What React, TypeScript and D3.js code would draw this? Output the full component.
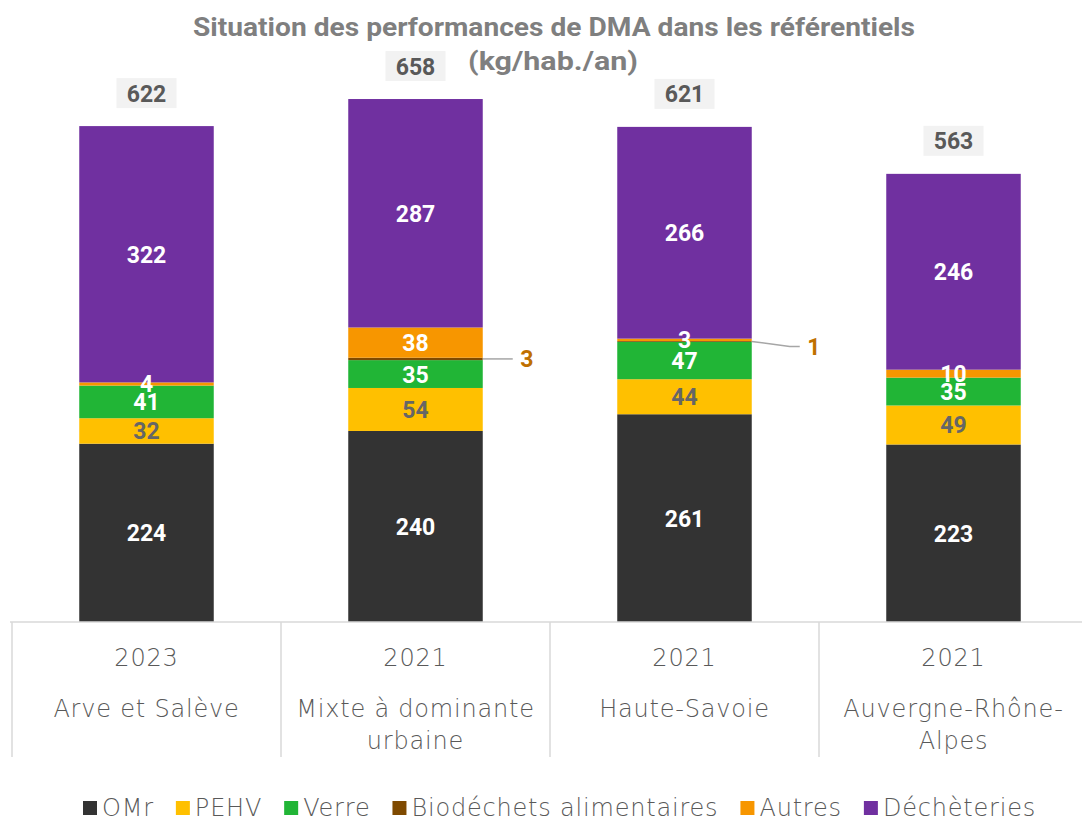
import React from "react";
import * as d3 from "d3";

const categories = ["Arve et Salève", "Mixte à dominante urbaine", "Haute-Savoie", "Auvergne-Rhône-Alpes"];
const years = ["2023", "2021", "2021", "2021"];
const categoryLines = [["Arve et Salève"], ["Mixte à dominante", "urbaine"], ["Haute-Savoie"], ["Auvergne-Rhône-", "Alpes"]];
const seriesNames = ["OMr", "PEHV", "Verre", "Biodéchets alimentaires", "Autres", "Déchèteries"];
const omr = [224, 240, 261, 223];
const pehv = [32, 54, 44, 49];
const verre = [41, 35, 47, 35];
const bio = [0, 3, 1, 0];
const autres = [4, 38, 3, 10];
const decheteries = [322, 287, 266, 246];
const totals = [622, 658, 621, 563];

const seriesValues = [omr, pehv, verre, bio, autres, decheteries];
const colors = ["#333333", "#FFC000", "#21B536", "#7F4A00", "#F79600", "#7030A0"];
const labelColors = ["#FFFFFF", "#666666", "#FFFFFF", "#BF7000", "#FFFFFF", "#FFFFFF"];

const W = 1082;
const H = 819;

const lightFamily = "'DejaVu Sans'";
const lightSize = 24;
const lightSpacing = 0.8;

function measure(text: string, font: string) {
  const c = document.createElement("canvas").getContext("2d")!;
  c.font = font;
  return c.measureText(text).width;
}

export default function App() {
  const x = d3.scaleBand<string>().domain(categories).range([12, 1088]).paddingInner(0.5).paddingOuter(0.25);
  const y = d3.scaleLinear().domain([0, 700]).range([622, 622 - 700 * 0.796]);

  const rows = categories.map((c, i) => {
    const r: any = { cat: c };
    seriesNames.forEach((s, j) => (r[s] = seriesValues[j][i]));
    return r;
  });
  const stacked = d3.stack<any>().keys(seriesNames)(rows);

  const legendFont = `200 ${lightSize}px 'DejaVu Sans'`;
  const labelFontFamily = "Roboto";

  // legend layout
  let lx = 83;
  const legendItems = seriesNames.map((s, i) => {
    const w = measure(s, legendFont) + s.length * lightSpacing;
    const item = { s, i, x: lx, w };
    lx += 14 + 5 + w + 22;
    return item;
  });

  const bw = x.bandwidth();

  return (
    <svg width={W} height={H} style={{ position: "absolute", left: 0, top: 0, background: "#fff" }}>
      <text x={554} y={36} textAnchor="middle" fill="#7F7F7F" fontFamily="Roboto" fontWeight="bold" fontSize={25} textLength={722} lengthAdjust="spacingAndGlyphs">
        Situation des performances de DMA dans les référentiels
      </text>
      <text x={553} y={70} textAnchor="middle" fill="#7F7F7F" fontFamily="Roboto" fontWeight="bold" fontSize={25} textLength={170} lengthAdjust="spacingAndGlyphs">
        (kg/hab./an)
      </text>

      {/* bars */}
      {stacked.map((layer, j) =>
        layer.map((d, i) => {
          const h = y(d[0]) - y(d[1]);
          if (h <= 0) return null;
          return (
            <rect key={`${j}-${i}`} x={x(categories[i])!} y={y(d[1])} width={bw} height={h} fill={colors[j]} />
          );
        })
      )}

      {/* axis lines */}
      <line x1={10} x2={1082} y1={y(0)} y2={y(0)} stroke="#D9D9D9" strokeWidth={1.5} />
      {d3.range(categories.length + 1).map((k) => {
        const xx = 12 + k * x.step();
        return <line key={k} x1={xx} x2={xx} y1={y(0)} y2={757} stroke="#D9D9D9" strokeWidth={1.5} />;
      })}

      {/* category labels */}
      {categories.map((c, i) => {
        const cx = x(c)! + bw / 2;
        return (
          <g key={c} fill="#595959" fontFamily={lightFamily} fontSize={lightSize} fontWeight={200} textAnchor="middle" letterSpacing={lightSpacing}>
            <text x={cx} y={666}>{years[i]}</text>
            {categoryLines[i].map((t, k) => (
              <text key={k} x={cx} y={717 + k * 32}>{t}</text>
            ))}
          </g>
        );
      })}

      {/* segment labels */}
      {stacked.map((layer, j) =>
        layer.map((d, i) => {
          const v = seriesValues[j][i];
          if (!v) return null;
          const cx = x(categories[i])! + bw / 2;
          const cy = (y(d[0]) + y(d[1])) / 2;
          if (j === 3) {
            const x0 = x(categories[i])! + bw;
            const dy = i === 2 ? 5 : 0;
            const x1 = x0 + (i === 2 ? 38 : 30);
            const x2 = x1 + (i === 2 ? 10 : 0);
            return (
              <g key={`l${j}-${i}`}>
                <polyline points={`${x0},${cy} ${x1},${cy + dy} ${x2},${cy + dy}`} fill="none" stroke="#A6A6A6" strokeWidth={1.5} />
                <text x={x2 + 14} y={cy + dy + 1} dominantBaseline="central" textAnchor="middle" fill={labelColors[j]} fontFamily={labelFontFamily} fontWeight="bold" fontSize={23}>
                  {v}
                </text>
              </g>
            );
          }
          return (
            <text key={`l${j}-${i}`} x={cx} y={cy + 1} dominantBaseline="central" textAnchor="middle" fill={labelColors[j]} fontFamily={labelFontFamily} fontWeight="bold" fontSize={23}>
              {v}
            </text>
          );
        })
      )}

      {/* totals */}
      {categories.map((c, i) => {
        const cx = x(c)! + bw / 2;
        const top = y(d3.sum(seriesValues, (s) => s[i]));
        const cy = top - 33;
        return (
          <g key={`t${i}`}>
            <rect x={cx - 30} y={cy - 15} width={60} height={30} fill="#F2F2F2" />
            <text x={cx} y={cy + 1} dominantBaseline="central" textAnchor="middle" fill="#595959" fontFamily="Roboto" fontWeight="bold" fontSize={23}>
              {totals[i]}
            </text>
          </g>
        );
      })}

      {/* legend */}
      {legendItems.map((it) => (
        <g key={it.s}>
          <rect x={it.x} y={801} width={14} height={14} fill={colors[it.i]} />
          <text x={it.x + 19} y={816} fill="#595959" fontFamily={lightFamily} fontSize={lightSize} fontWeight={200} letterSpacing={lightSpacing}>
            {it.s}
          </text>
        </g>
      ))}
    </svg>
  );
}
